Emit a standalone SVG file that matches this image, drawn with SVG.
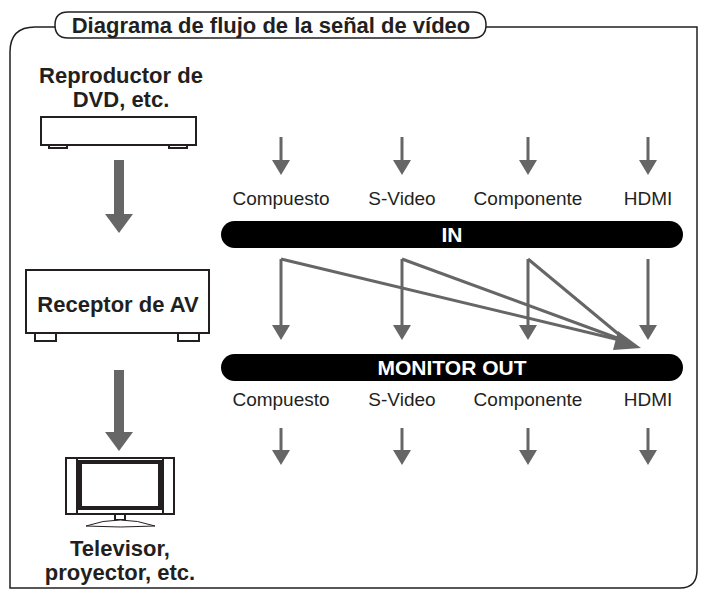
<svg xmlns="http://www.w3.org/2000/svg" width="706" height="595" viewBox="0 0 706 595">
<style>
.t{font-family:"Liberation Sans",Arial,sans-serif;fill:#231f20}
.b{font-weight:bold;font-size:22px}
.l{font-size:19px}
.bar{fill:#000}
.bt{font-family:"Liberation Sans",Arial,sans-serif;font-weight:bold;font-size:21px;fill:#fff}
.c{stroke:#666;stroke-width:3;fill:none}
.dev{fill:#fff;stroke:#231f20;stroke-width:2}
</style>
<rect width="706" height="595" fill="#fff"/>
<path d="M10,588 V52 Q10,27 35,27 H697 V570 Q697,588 680,588 Z" fill="none" stroke="#231f20" stroke-width="1.5"/>
<g id="title">
<path d="M68,12 H473 Q486,12 486,25 Q486,38 473,38 H68 Q55,38 55,25 Q55,12 68,12Z" fill="#fff" stroke="#231f20" stroke-width="1.5"/>
<text class="t b" x="271" y="33" text-anchor="middle">Diagrama de flujo de la señal de vídeo</text>
</g>
<g id="dvd">
<text class="t b" x="121" y="83" text-anchor="middle">Reproductor de</text>
<text class="t b" x="121" y="107" text-anchor="middle">DVD, etc.</text>
<rect class="dev" x="41" y="117" width="155" height="28"/>
<rect class="dev" x="49" y="145" width="18" height="3" stroke-width="1.5"/>
<rect class="dev" x="169" y="145" width="18" height="3" stroke-width="1.5"/>
</g>
<g id="receptor">
<rect class="dev" x="26" y="270" width="183" height="63" stroke-width="2.5"/>
<text class="t b" x="118" y="312" text-anchor="middle">Receptor de AV</text>
<rect class="dev" x="35" y="333" width="21" height="8"/>
<rect class="dev" x="178" y="333" width="21" height="8"/>
</g>
<g id="tv">
<rect class="dev" x="66" y="458" width="108" height="56" stroke-width="1.3"/>
<rect class="dev" x="77" y="458" width="86" height="56" stroke-width="1.3"/>
<rect class="dev" x="79" y="461" width="82" height="48" stroke-width="0.8"/>
<rect class="dev" x="81" y="463" width="78" height="44" stroke-width="0.8"/>
<rect class="dev" x="115" y="514" width="10" height="6" stroke-width="1"/>
<path d="M86,526 Q120,514 155,526 Q120,528 86,526Z" fill="#fff" stroke="#231f20" stroke-width="1"/>
<text class="t b" x="120" y="556" text-anchor="middle">Televisor,</text>
<text class="t b" x="120" y="580" text-anchor="middle">proyector, etc.</text>
</g>
<g id="in">
<rect class="bar" x="221" y="221" width="462" height="27" rx="13.5"/>
<text class="bt" x="452" y="242" text-anchor="middle">IN</text>
</g>
<g id="out">
<rect class="bar" x="221" y="354" width="462" height="27" rx="13.5"/>
<text class="bt" x="452" y="375" text-anchor="middle">MONITOR OUT</text>
</g>
<g id="labels" class="t l" text-anchor="middle">
<text x="281" y="205">Compuesto</text><text x="402" y="205">S-Video</text><text x="528" y="205">Componente</text><text x="648" y="205">HDMI</text>
<text x="281" y="406">Compuesto</text><text x="402" y="406">S-Video</text><text x="528" y="406">Componente</text><text x="648" y="406">HDMI</text>
</g>
<g id="connectors">
<path d="M119,160 V216" stroke="#666" stroke-width="10"/><path d="M105,214 H133 L119,233Z" fill="#666"/>
<path d="M119,370 V434" stroke="#666" stroke-width="10"/><path d="M105,432 H133 L119,451Z" fill="#666"/>
<g fill="#666">
<path class="c" d="M281,137 V162"/><path d="M272,160 H290 L281,175Z"/>
<path class="c" d="M402,137 V162"/><path d="M393,160 H411 L402,175Z"/>
<path class="c" d="M528,137 V162"/><path d="M519,160 H537 L528,175Z"/>
<path class="c" d="M648,137 V162"/><path d="M639,160 H657 L648,175Z"/>
<path class="c" d="M281,428 V452"/><path d="M272,450 H290 L281,465Z"/>
<path class="c" d="M402,428 V452"/><path d="M393,450 H411 L402,465Z"/>
<path class="c" d="M528,428 V452"/><path d="M519,450 H537 L528,465Z"/>
<path class="c" d="M648,428 V452"/><path d="M639,450 H657 L648,465Z"/>
<path class="c" d="M281,259 V327"/><path d="M272,325 H290 L281,340Z"/>
<path class="c" d="M402,259 V327"/><path d="M393,325 H411 L402,340Z"/>
<path class="c" d="M528,259 V327"/><path d="M519,325 H537 L528,340Z"/>
<path class="c" d="M648,259 V327"/><path d="M639,325 H657 L648,340Z"/>
<path class="c" d="M281,259 L628,342"/>
<path class="c" d="M402,259 L628,342"/>
<path class="c" d="M528,259 L628,342"/>
<path d="M618,331 L641,348 L613,350Z"/>
</g>
</g>
</svg>
